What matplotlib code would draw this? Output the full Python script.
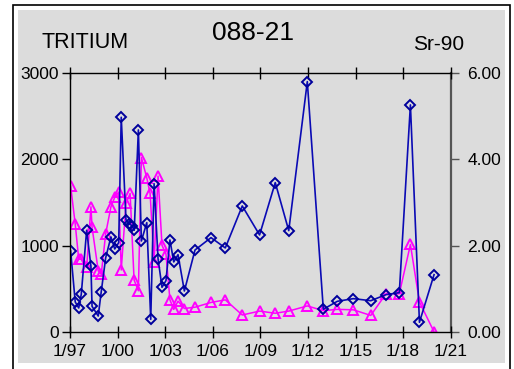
import matplotlib
matplotlib.use("Agg")
import matplotlib.pyplot as plt
from matplotlib.patches import Rectangle

plt.rcParams['font.family'] = ['Liberation Sans', 'DejaVu Sans']

# sample dates as decimal years
years_h3 = [1997.04, 1997.33, 1997.55, 1997.71, 1998.05, 1998.32, 1998.39, 1998.78,
            1998.97, 1999.25, 1999.58, 1999.82, 2000.07, 2000.23, 2000.53, 2000.74,
            2000.91, 2001.05, 2001.31, 2001.50, 2001.84, 2002.09, 2002.30, 2002.55,
            2002.80, 2003.05, 2003.30, 2003.54, 2003.81, 2004.21, 2004.88, 2005.89,
            2006.79, 2007.86, 2008.95, 2009.94, 2010.79, 2011.96, 2012.97, 2013.85,
            2014.86, 2015.96, 2016.92, 2017.76, 2018.46, 2019.03, 2019.95]
tritium = [940, 350, 281, 439, 1179, 763, 300, 188,
           470, 862, 1102, 963, 1036, 2485, 1298, 1256,
           1229, 1179, 2339, 1055, 1267, 150, 1718, 851,
           520, 597, 1067, 813, 897, 477, 951, 1094,
           975, 1460, 1125, 1730, 1175, 2897, 266, 358,
           389, 365, 435, 458, 2628, 116, 666]

years_sr = [1997.04, 1997.33, 1997.55, 1997.71, 1998.05, 1998.32, 1998.39, 1998.78,
            1998.97, 1999.25, 1999.58, 1999.82, 2000.07, 2000.23, 2000.53, 2000.79,
            2001.04, 2001.31, 2001.50, 2001.84, 2002.05, 2002.30, 2002.55, 2002.80,
            2003.05, 2003.30, 2003.54, 2003.81, 2004.21, 2004.88, 2005.89, 2006.79,
            2007.86, 2008.95, 2009.94, 2010.79, 2011.96, 2012.97, 2013.85, 2014.86,
            2015.96, 2016.92, 2017.76, 2018.46, 2019.03, 2019.95]
sr90 = [3.38, 2.50, 1.69, 1.69, 1.50, 2.90, 2.43, 1.42,
        1.34, 2.28, 2.90, 3.12, 3.24, 1.44, 2.98, 3.21,
        1.21, 0.96, 4.04, 3.57, 3.21, 1.63, 3.61, 2.01,
        1.81, 0.75, 0.53, 0.72, 0.55, 0.58, 0.69, 0.75,
        0.40, 0.49, 0.44, 0.49, 0.61, 0.50, 0.53, 0.52,
        0.39, 0.89, 0.89, 2.03, 0.70, 0.01]

x_ticks = [1997, 2000, 2003, 2006, 2009, 2012, 2015, 2018, 2021]
x_labels = ["1/97", "1/00", "1/03", "1/06", "1/09", "1/12", "1/15", "1/18", "1/21"]
left_ticks = [0, 1000, 2000, 3000]
right_ticks = [0, 2, 4, 6]

W, H = 514, 369
fig = plt.figure(figsize=(W / 100, H / 100), dpi=100, facecolor="white")

# outer frame and grey chart panel (kept behind the axes)
fig.patches.append(Rectangle((13 / W, -0.05), 497 / W, 1 - 5 / H + 0.05,
                             transform=fig.transFigure, facecolor="white",
                             edgecolor="black", lw=1.2, zorder=-20))
fig.patches.append(Rectangle((18 / W, 1 - 363 / H), 487 / W, 353 / H,
                             transform=fig.transFigure, facecolor="#dcdcdc",
                             edgecolor="none", zorder=-10))

ax = fig.add_axes([70 / W, 1 - 332.3 / H, 380.7 / W, 259.6 / H])
ax2 = ax.twinx()
ax2.set_zorder(1)
ax.set_zorder(2)
ax.patch.set_visible(False)
ax2.patch.set_visible(False)

ax2.plot(years_sr, sr90, color="#ff00ff", lw=1.1, marker="^", ms=7,
         mfc="none", mec="#ff00ff", mew=1.4)
ax.plot(years_h3, tritium, color="#0a0ab4", lw=1.2, marker="D", ms=4.8,
        mfc="none", mec="#00009c", mew=1.4)

ax.set_xlim(1997, 2021)
ax.set_ylim(0, 3000)
ax2.set_ylim(0, 6)

ax.set_xticks(x_ticks)
ax.set_xticklabels(x_labels)
ax.set_yticks(left_ticks)
ax.set_yticklabels([str(v) for v in left_ticks])
ax2.set_yticks(right_ticks)
ax2.set_yticklabels([f"{v:.2f}" for v in right_ticks])

ax.tick_params(axis="x", which="both", direction="inout", length=9, width=1,
               top=True, labelsize=12.5, pad=4)
ax.tick_params(axis="y", direction="out", length=6, width=1, labelsize=12.5, pad=2)
ax2.tick_params(axis="y", direction="out", length=6, width=1, color="#555555",
                labelsize=12.5, pad=6)

for s in ["left", "bottom", "top"]:
    ax.spines[s].set_color("black")
    ax.spines[s].set_linewidth(1.0)
ax.spines["right"].set_visible(False)
for s in ["left", "bottom", "top"]:
    ax2.spines[s].set_visible(False)
ax2.spines["right"].set_color("#555555")
ax2.spines["right"].set_linewidth(1.6)

fig.text(85 / W, 1 - 43 / H, "TRITIUM", ha="center", va="center", fontsize=15.5)
fig.text(253 / W, 1 - 33 / H, "088-21", ha="center", va="center", fontsize=19)
fig.text(439 / W, 1 - 44 / H, "Sr-90", ha="center", va="center", fontsize=15)

fig.savefig("out.png", dpi=100)
